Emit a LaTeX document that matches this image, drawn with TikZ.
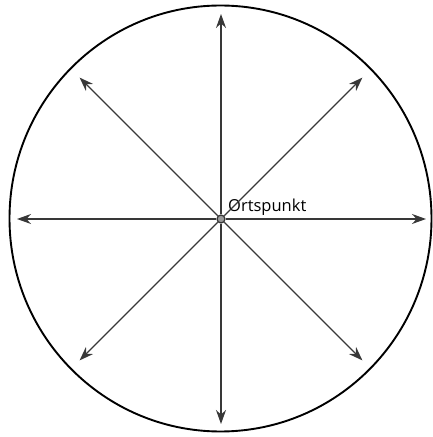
\documentclass[tikz,border=0pt]{standalone}
\usepackage{fontspec}
\setmainfont{Open Sans}
\usepackage{tikz}
\usetikzlibrary{arrows.meta, calc}
\definecolor{strahl}{gray}{0.22}
\definecolor{punktgrau}{gray}{0.6}

\begin{document}
\begin{tikzpicture}[x=1pt, y=1pt,
    pfeil/.style={draw=strahl, line width=1.3pt, -{Stealth[length=14pt, width=10pt]}},
    punkt/.style={circle, draw=strahl, fill=punktgrau, line width=1.3pt, inner sep=0pt, minimum size=8pt}]
	\useasboundingbox (0,0) rectangle (432,437);
	
	% Kreis
	\draw[line width=1.9pt, black] (220.5,218.5) ellipse [x radius=211, y radius=213];
	
	\node[punkt] (o) at (221,218) {};
	\node[anchor=base west, font=\fontsize{16.5}{20}\selectfont, inner sep=0pt] (lbl) at (228,225) {Ortspunkt};
	
	% Strahlen
	\foreach \w/\l in {0/205, 45/200, 90/205, 135/200, 180/204, 225/200, 270/205, 315/200}
		\coordinate (t\w) at ($(o.center)+(\w:\l)$);
	\foreach \w in {0,45,...,315}
		\draw[pfeil] (o) -- (t\w);
\end{tikzpicture}
\end{document}
